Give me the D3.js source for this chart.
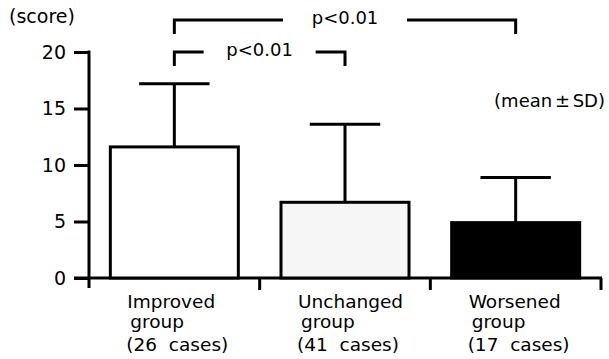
<!DOCTYPE html>
<html><head><meta charset="utf-8">
<script src="https://cdn.jsdelivr.net/npm/d3@7"></script>
<style>body{margin:0;background:#fff}svg{display:block}text{font-family:"DejaVu Sans",sans-serif;fill:#000}</style>
</head><body><svg id="c" width="609" height="359"></svg>
<script>
const categories = ["Improved", "Unchanged", "Worsened"];
const labelLine2 = ["group", "group", "group"];
const labelLine3 = ["(26  cases)", "(41  cases)", "(17  cases)"];
const means = [11.6, 6.7, 4.9];
const sds = [5.6, 6.9, 4.0];
const fills = ["#ffffff", "#f6f6f6", "#000000"];
const yTicks = [0, 5, 10, 15, 20];
const comparisons = [[0, 2, "p<0.01"], [0, 1, "p<0.01"]];

const svg = d3.select("#c");
const x = d3.scaleBand().domain(categories).range([89, 601]).paddingInner(0.25).paddingOuter(0.125);
const y = d3.scaleLinear().domain([0, 20]).range([278, 52]);
const sw = 3;

// y axis
const yAxis = svg.append("g").attr("transform", "translate(89,0)")
  .call(d3.axisLeft(y).tickValues(yTicks).tickSize(15).tickPadding(8));
yAxis.select(".domain").remove();
yAxis.selectAll(".tick line").attr("stroke", "#000").attr("stroke-width", sw);
yAxis.selectAll(".tick text").attr("font-size", 19).attr("fill", "#000").attr("font-family", "DejaVu Sans");
svg.append("line").attr("x1", 89).attr("x2", 89).attr("y1", y(20) - 1.5).attr("y2", 288)
  .attr("stroke", "#000").attr("stroke-width", sw);

// x axis line
svg.append("line").attr("x1", 74).attr("x2", 602).attr("y1", y(0)).attr("y2", y(0))
  .attr("stroke", "#000").attr("stroke-width", sw);
const step = x.step();
const bounds = categories.map(c => x(c) + x.bandwidth() + step * x.paddingInner() / 2);
svg.selectAll(".xt").data(bounds).join("line")
  .attr("x1", d => d).attr("x2", d => d).attr("y1", y(0)).attr("y2", 290)
  .attr("stroke", "#000").attr("stroke-width", sw);

// error bars
const cx = c => x(c) + x.bandwidth() / 2;
const capW = x.bandwidth() * 0.55;
categories.forEach((c, i) => {
  svg.append("line").attr("x1", cx(c)).attr("x2", cx(c)).attr("y1", y(means[i])).attr("y2", y(means[i] + sds[i]))
    .attr("stroke", "#000").attr("stroke-width", sw);
  svg.append("line").attr("x1", cx(c) - capW / 2).attr("x2", cx(c) + capW / 2)
    .attr("y1", y(means[i] + sds[i])).attr("y2", y(means[i] + sds[i]))
    .attr("stroke", "#000").attr("stroke-width", sw);
});

// bars
svg.selectAll(".bar").data(categories).join("rect")
  .attr("x", c => x(c)).attr("width", x.bandwidth())
  .attr("y", (c, i) => y(means[i])).attr("height", (c, i) => y(0) - y(means[i]))
  .attr("fill", (c, i) => fills[i]).attr("stroke", "#000").attr("stroke-width", sw);

// category labels
categories.forEach((c, i) => {
  const g = svg.append("text").attr("font-size", 18.5).style("white-space", "pre");
  const lx = x(c) + 17;
  g.append("tspan").attr("x", lx).attr("y", 308).text(c);
  g.append("tspan").attr("x", lx + 3).attr("y", 328).text(labelLine2[i]);
  g.append("tspan").attr("x", lx - 1).attr("y", 351).text(labelLine3[i]);
});

// texts
svg.append("text").attr("x", 9).attr("y", 23).attr("font-size", 19).text("(score)");
svg.append("text").attr("x", 605).attr("y", 107).attr("text-anchor", "end").attr("font-size", 18)
  .attr("word-spacing", -3).text("(mean ± SD)");

// significance brackets
const levels = [20, 52];
comparisons.forEach(([a, b, label], k) => {
  const x1 = cx(categories[a]), x2 = cx(categories[b]);
  const top = levels[k], drop = 14, mid = (x1 + x2) / 2, gap = k === 0 ? 62 : 56;
  svg.append("path").attr("d", `M${x1},${top + drop}V${top}H${mid - gap}`)
    .attr("fill", "none").attr("stroke", "#000").attr("stroke-width", sw);
  svg.append("path").attr("d", `M${mid + gap},${top}H${x2}V${top + drop}`)
    .attr("fill", "none").attr("stroke", "#000").attr("stroke-width", sw);
  svg.append("text").attr("x", mid).attr("y", top + 4).attr("text-anchor", "middle").attr("font-size", 18).text(label);
});
</script></body></html>
